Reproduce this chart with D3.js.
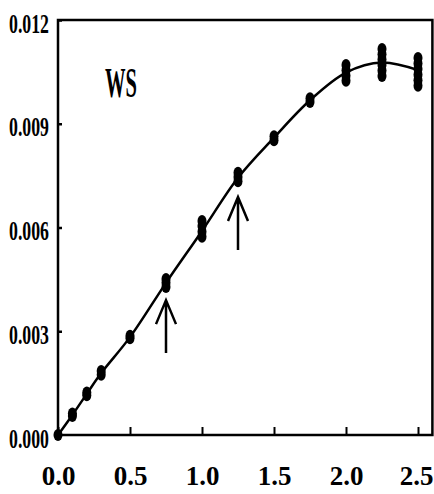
<!DOCTYPE html>
<html>
<head>
<meta charset="utf-8">
<script src="https://cdn.jsdelivr.net/npm/d3@7"></script>
<style>
  html, body { margin: 0; padding: 0; background: #fff; }
  svg { display: block; }
</style>
</head>
<body>
<div id="chart"></div>
<script>
// replicate measurements, one row per x position
var xs = [0, 0.1, 0.2, 0.3, 0.5, 0.75, 1.0, 1.25, 1.5, 1.75, 2.0, 2.25, 2.5];
var reps = [
  [0],
  [0.00055, 0.00062],
  [0.00115, 0.00123],
  [0.00174, 0.00185],
  [0.0028, 0.00287],
  [0.00428, 0.0044, 0.00451],
  [0.00573, 0.00588, 0.00604, 0.00619],
  [0.00734, 0.00746, 0.00758],
  [0.00852, 0.00864],
  [0.00963, 0.00974],
  [0.01024, 0.01039, 0.01055, 0.0107],
  [0.01038, 0.01054, 0.0107, 0.01086, 0.01101, 0.01116],
  [0.0101, 0.01026, 0.01042, 0.01058, 0.01074, 0.0109]
];
// fitted curve
var fit = [0, 0.00058, 0.00119, 0.00179, 0.00283, 0.0044, 0.0059, 0.00744, 0.0086, 0.00968, 0.01048, 0.01077, 0.01055];
var arrows = [[0.75, 0.0039, 0.00237], [1.25, 0.00688, 0.00535]];
var xTicks = [0, 0.5, 1.0, 1.5, 2.0, 2.5];
var yTicks = [0, 0.003, 0.006, 0.009, 0.012];
var label = "WS";

var width = 434, height = 494;
var x = d3.scaleLinear([0, 2.6], [58, 432.4]);
var y = d3.scaleLinear([0, 0.012], [435, 20]);

var svg = d3.select("#chart").append("svg")
    .attr("width", width)
    .attr("height", height);

var serif = "'Liberation Serif', 'DejaVu Serif', serif";

// frame
svg.append("rect")
    .attr("x", x(0)).attr("y", y(0.012))
    .attr("width", x(2.6) - x(0)).attr("height", y(0) - y(0.012))
    .attr("fill", "none").attr("stroke", "#000").attr("stroke-width", 2.5);

// x axis
var xAxis = svg.append("g")
    .attr("transform", `translate(0,${y(0)})`)
    .call(d3.axisBottom(x).tickValues(xTicks).tickFormat(d3.format(".1f")).tickSizeInner(-8).tickSizeOuter(0).tickPadding(0));
xAxis.select(".domain").remove();
xAxis.selectAll(".tick line").attr("stroke-width", 2);
xAxis.selectAll(".tick text")
    .attr("y", 50).attr("dy", 0)
    .style("font-family", serif).style("font-weight", "bold").style("font-size", "27px");
// last label sits against the right edge
xAxis.select(".tick:last-of-type text")
    .attr("text-anchor", "end")
    .attr("x", width - 1 - x(2.5));

// y axis
var yAxis = svg.append("g")
    .attr("transform", `translate(${x(0)},0)`)
    .call(d3.axisLeft(y).tickValues(yTicks).tickFormat(d3.format(".3f")).tickSizeInner(-4).tickSizeOuter(0).tickPadding(0));
yAxis.select(".domain").remove();
yAxis.selectAll(".tick line").attr("stroke-width", 2.5);
yAxis.selectAll(".tick text")
    .attr("x", -9).attr("dy", 12)
    .attr("textLength", 40).attr("lengthAdjust", "spacingAndGlyphs")
    .style("font-family", serif).style("font-weight", "bold").style("font-size", "27px");

// fitted curve
var line = d3.line()
    .x((d, i) => x(xs[i]))
    .y(d => y(d))
    .curve(d3.curveCatmullRom);
svg.append("path")
    .datum(fit)
    .attr("d", line)
    .attr("fill", "none").attr("stroke", "#000").attr("stroke-width", 2.5);

// points
var pts = xs.flatMap((xv, i) => reps[i].map(v => [xv, v]));
svg.append("g").selectAll("ellipse")
    .data(pts)
    .join("ellipse")
    .attr("cx", d => x(d[0]))
    .attr("cy", d => y(d[1]))
    .attr("rx", 4.5).attr("ry", 6)
    .attr("fill", "#000");

// arrows
svg.append("g").selectAll("path")
    .data(arrows)
    .join("path")
    .attr("d", d => {
      var ax = x(d[0]), t = y(d[1]), b = y(d[2]);
      return `M${ax},${b}L${ax},${t}M${ax - 10},${t + 24}L${ax},${t}L${ax + 10},${t + 24}`;
    })
    .attr("fill", "none").attr("stroke", "#000").attr("stroke-width", 2.5);

// panel label
svg.append("text")
    .attr("x", 105).attr("y", 97)
    .attr("textLength", 32).attr("lengthAdjust", "spacingAndGlyphs")
    .style("font-family", serif).style("font-weight", "bold").style("font-size", "42px")
    .text(label);
</script>
</body>
</html>
